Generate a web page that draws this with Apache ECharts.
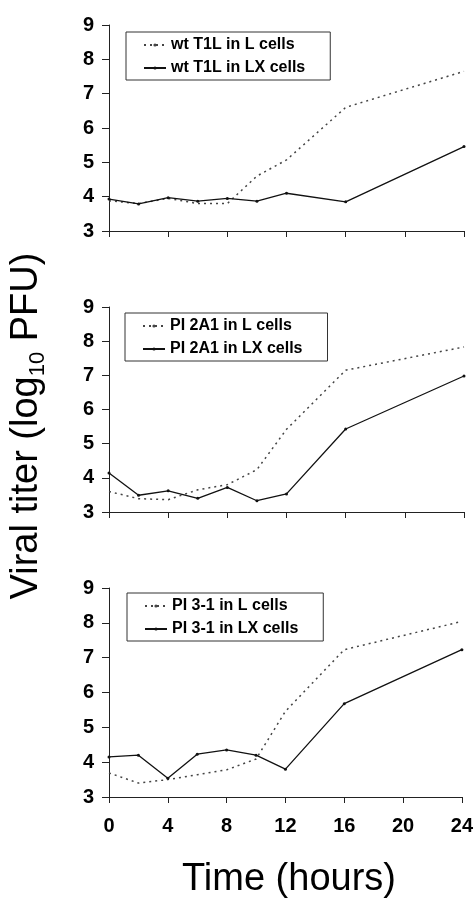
<!DOCTYPE html>
<html>
<head>
<meta charset="utf-8">
<script src="https://cdn.jsdelivr.net/npm/echarts@6/dist/echarts.min.js"></script>
<style>
  html, body { margin: 0; padding: 0; background: #fff; }
  #chart { width: 476px; height: 901px; }
</style>
</head>
<body>
<div id="chart"></div>
<script>
// sampling times (hours)
var hours = [0, 2, 4, 6, 8, 10, 12, 16, 24];
var xTicks = [0, 4, 8, 12, 16, 20, 24];

// viral titers, log10 PFU
var wtL = [3.88, 3.8, 3.95, 3.8, 3.8, 4.6, 5.07, 6.6, 7.65];
var wtLX = [3.93, 3.79, 3.97, 3.87, 3.95, 3.87, 4.1, 3.85, 5.46];
var pi2a1L = [3.6, 3.39, 3.36, 3.65, 3.8, 4.24, 5.42, 7.15, 7.83];
var pi2a1LX = [4.14, 3.49, 3.62, 3.4, 3.72, 3.33, 3.53, 5.43, 6.98];
var pi31L = [3.69, 3.4, 3.5, 3.64, 3.78, 4.09, 5.46, 7.23, 8.04];
var pi31LX = [4.15, 4.2, 3.54, 4.23, 4.35, 4.2, 3.8, 5.68, 7.23];

var panels = [
  { names: ["wt T1L in L cells", "wt T1L in LX cells"], L: wtL, LX: wtLX },
  { names: ["PI 2A1 in L cells", "PI 2A1 in LX cells"], L: pi2a1L, LX: pi2a1LX },
  { names: ["PI 3-1 in L cells", "PI 3-1 in LX cells"], L: pi31L, LX: pi31LX }
];

var gridTops = [25, 307, 588];
var gridHeights = [206, 205, 209];
var legendTops = [32, 313, 593];
var legendLefts = [126, 125, 127];

var font = "'Liberation Sans', Arial, sans-serif";

function pairs(vals) {
  return hours.map(function (h, i) { return [h, vals[i]]; });
}

var grid = [], xAxis = [], yAxis = [], series = [], legend = [];

panels.forEach(function (p, i) {
  grid.push({ left: 109, right: 12, top: gridTops[i], height: gridHeights[i] });
  xAxis.push({
    type: "value",
    gridIndex: i,
    min: 0,
    max: 24,
    interval: 4,
    axisLine: { lineStyle: { color: "#222", width: 1 } },
    axisTick: { length: 6, lineStyle: { color: "#222" } },
    splitLine: { show: false },
    axisLabel: {
      show: i === 2,
      color: "#000",
      fontFamily: font,
      fontWeight: "bold",
      fontSize: 20,
      margin: 19
    }
  });
  yAxis.push({
    type: "value",
    gridIndex: i,
    min: 3,
    max: 9,
    interval: 1,
    axisLine: { show: true, lineStyle: { color: "#222", width: 1 } },
    axisTick: { show: true, length: 7, lineStyle: { color: "#222" } },
    splitLine: { show: false },
    axisLabel: {
      color: "#000",
      fontFamily: font,
      fontWeight: "bold",
      fontSize: 20,
      margin: 15
    }
  });
  series.push({
    name: p.names[0],
    type: "line",
    xAxisIndex: i,
    yAxisIndex: i,
    data: pairs(p.L),
    symbol: "none",
    lineStyle: { color: "#444", width: 1.5, type: [2, 4] },
    itemStyle: { color: "#444" }
  });
  series.push({
    name: p.names[1],
    type: "line",
    xAxisIndex: i,
    yAxisIndex: i,
    data: pairs(p.LX),
    symbol: "circle",
    symbolSize: 3,
    lineStyle: { color: "#111", width: 1.3 },
    itemStyle: { color: "#111" }
  });
  legend.push({
    data: p.names,
    orient: "vertical",
    left: legendLefts[i],
    top: legendTops[i],
    padding: [5, 25, 4, 17],
    itemGap: 7,
    itemWidth: 22,
    itemHeight: 4,
    borderColor: "#333",
    borderWidth: 1,
    backgroundColor: "#fff",
    textStyle: {
      color: "#000",
      fontFamily: font,
      fontWeight: "bold",
      fontSize: 16,
      lineHeight: 16
    }
  });
});

var chart = echarts.init(document.getElementById("chart"));
chart.setOption({
  animation: false,
  backgroundColor: "#fff",
  grid: grid,
  xAxis: xAxis,
  yAxis: yAxis,
  legend: legend,
  series: series,
  graphic: [
    {
      type: "text",
      x: 27,
      y: 426,
      rotation: Math.PI / 2,
      style: {
        text: "{a|Viral titer (log}{s|10}{a| PFU)}",
        align: "center",
        verticalAlign: "middle",
        fill: "#000",
        rich: {
          a: { fontFamily: font, fontSize: 38, lineHeight: 44, fill: "#000" },
          s: { fontFamily: font, fontSize: 22, lineHeight: 26, verticalAlign: "bottom", fill: "#000" }
        }
      }
    },
    {
      type: "text",
      x: 289,
      y: 880,
      style: {
        text: "Time (hours)",
        align: "center",
        verticalAlign: "middle",
        fontFamily: font,
        fontSize: 38,
        fill: "#000"
      }
    }
  ]
});
</script>
</body>
</html>
